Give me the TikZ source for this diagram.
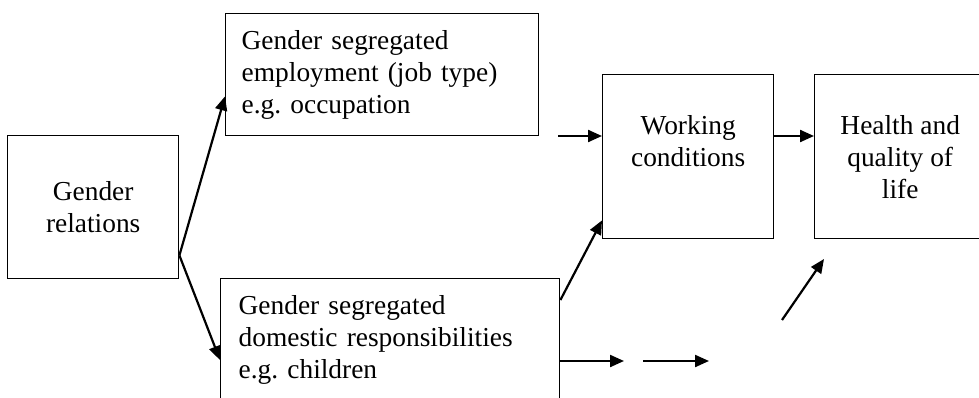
\documentclass[tikz,border=0pt]{standalone}
\usepackage{fontspec}
\setmainfont{Liberation Serif}
\usetikzlibrary{arrows.meta, positioning, calc}
\frenchspacing

\begin{document}
\begin{tikzpicture}[
  x=1pt, y=1pt,
  box/.style={draw, line width=1.4pt, anchor=north west, inner sep=0pt,
              font=\fontsize{27.4}{32}\selectfont},
  arr/.style={-{Triangle[length=14pt, width=12pt]}, line width=2.2pt}
]
  \clip (0,0) rectangle (979,397);
  \node[box, minimum width=171pt, minimum height=143pt, align=center] (gr) at (7,262) {Gender\\relations};
  \node[box, minimum width=313pt, minimum height=122pt, text width=281pt, inner xsep=16pt, align=left] (emp) at (225,384)
    {Gender segregated\\employment (job type)\\e.g. occupation};
  \node[box, minimum width=339pt, minimum height=122pt, text width=303pt, inner xsep=18pt, align=left] (dom) at (220,119)
    {Gender segregated\\domestic responsibilities\\e.g. children};
  \node[box, minimum width=171pt, minimum height=164pt, align=center] (wc) at (602,323) {Working\\conditions\\\mbox{}};
  \node[box, minimum width=171pt, minimum height=164pt, align=center] (hq) at (814,323) {Health and\\quality of\\life};
  % loose ends
  \coordinate (fork) at ($(gr.south east)+(0,24)$);
  \coordinate (empout) at (558,261);
  \coordinate (free1) at (782,77);
  \coordinate (free2) at (824,138);
  \coordinate (gap1) at (624,36);
  \coordinate (gap2) at (643,36);
  \coordinate (gap3) at (709,36);
  \draw[arr] (fork) -- ($(emp.south west)+(0,40)$);
  \draw[arr] (fork) -- ($(dom.north west)+(0,-82)$);
  \draw[arr] (empout) -- (empout -| wc.west);
  \draw[arr] (wc.east |- empout) -- (hq.west |- empout);
  \draw[arr] ($(dom.north east)+(0,-22)$) -- ($(wc.south west)+(0,19)$);
  \draw[arr] (free1) -- (free2);
  \draw[arr] (dom.east |- gap1) -- (gap1);
  \draw[arr] (gap2) -- (gap3);
\end{tikzpicture}
\end{document}
